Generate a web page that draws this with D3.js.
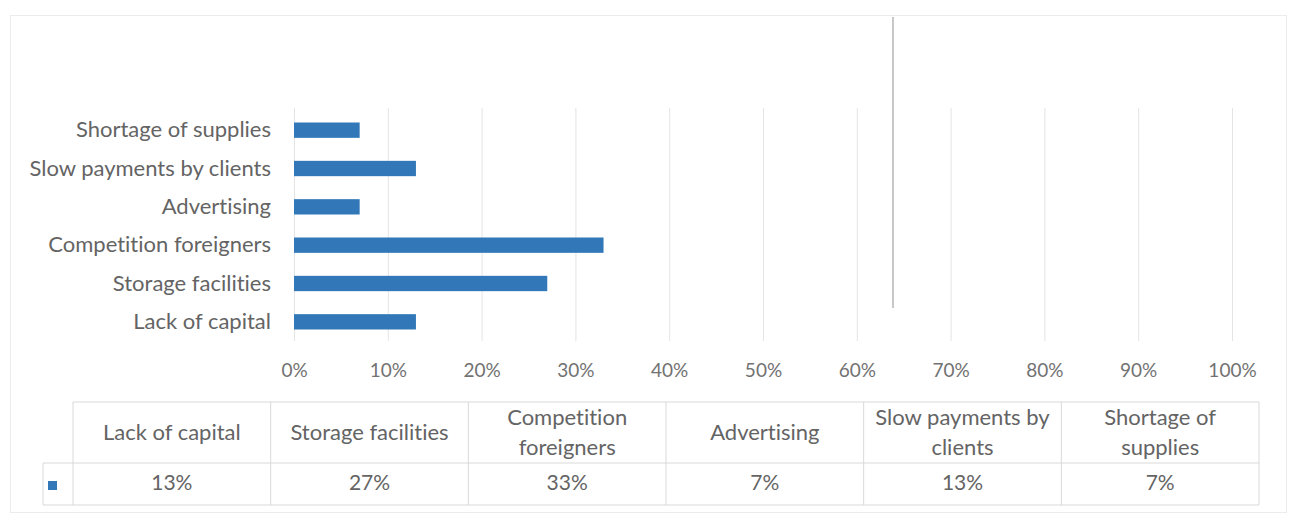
<!DOCTYPE html>
<html>
<head>
<meta charset="utf-8">
<script src="https://cdn.jsdelivr.net/npm/d3@7"></script>
<style>
  html, body { margin: 0; padding: 0; background: #fff; }
  svg { display: block; }
  text { font-family: Lato, "Open Sans", sans-serif; font-variant-ligatures: none; }
</style>
</head>
<body>
<svg id="chart" width="1290" height="525"></svg>
<script>
// Problems reported, share of respondents
const categories = ["Lack of capital", "Storage facilities", "Competition foreigners", "Advertising", "Slow payments by clients", "Shortage of supplies"];
const values = [0.13, 0.27, 0.33, 0.07, 0.13, 0.07];
const valueLabels = ["13%", "27%", "33%", "7%", "13%", "7%"];
// header cells of the data table, wrapped as in the table
const headerLines = [["Lack of capital"], ["Storage facilities"], ["Competition", "foreigners"], ["Advertising"], ["Slow payments by", "clients"], ["Shortage of", "supplies"]];
const tickValues = [0, 0.1, 0.2, 0.3, 0.4, 0.5, 0.6, 0.7, 0.8, 0.9, 1.0];

const svg = d3.select("#chart");
const barColor = "#3278b8";
const gridColor = "#e4e4e4";
const textColor = "#646464";
const labelSize = 22;

// outer chart frame
svg.append("rect")
  .attr("x", 10.5).attr("y", 15.5).attr("width", 1276).attr("height", 497)
  .attr("fill", "none").attr("stroke", "#ececec");

const x = d3.scaleLinear().domain([0, 1]).range([294, 1232]);
const y = d3.scaleBand()
  .domain(categories.slice().reverse())
  .range([111, 341])
  .paddingInner(0.6)
  .paddingOuter(0.3);

// vertical gridlines
svg.append("g")
  .attr("transform", "translate(0,341)")
  .call(d3.axisBottom(x).tickValues(tickValues).tickSize(-233).tickFormat(""))
  .call(g => g.select(".domain").remove())
  .call(g => g.selectAll(".tick line").attr("stroke", gridColor).attr("stroke-width", 1));

// bars
svg.append("g")
  .selectAll("rect")
  .data(categories)
  .join("rect")
  .attr("x", x(0))
  .attr("y", d => y(d))
  .attr("width", (d, i) => x(values[i]) - x(0))
  .attr("height", y.bandwidth())
  .attr("fill", barColor);

// percentage axis labels
svg.append("g")
  .attr("transform", "translate(0,363)")
  .call(d3.axisBottom(x).tickValues(tickValues).tickSize(0).tickPadding(0).tickFormat(d3.format(".0%")))
  .call(g => g.select(".domain").remove())
  .call(g => g.selectAll(".tick text")
    .attr("fill", "#727272")
    .attr("font-family", "Lato, sans-serif")
    .attr("font-size", 19)
    .attr("dy", "0.71em"));

// category axis labels
svg.append("g")
  .attr("transform", `translate(${x(0)},0)`)
  .call(d3.axisLeft(y).tickSize(0).tickPadding(23))
  .call(g => g.select(".domain").remove())
  .call(g => g.selectAll(".tick text")
    .attr("fill", textColor)
    .attr("font-family", "Lato, sans-serif")
    .attr("font-size", labelSize));

// data table under the axis
const col = d3.scaleBand().domain(categories).range([73, 1259]);
const tableTop = 402, rowSplit = 463, tableBottom = 505, legendLeft = 43;
const table = svg.append("g").attr("stroke", "#d9d9d9").attr("stroke-width", 1).attr("fill", "none");
table.append("path").attr("d", `M${col.range()[0]},${tableTop}H${col.range()[1]}`);
table.append("path").attr("d", `M${legendLeft},${rowSplit}H${col.range()[1]}`);
table.append("path").attr("d", `M${legendLeft},${tableBottom}H${col.range()[1]}`);
table.append("path").attr("d", `M${legendLeft},${rowSplit}V${tableBottom}`);
table.selectAll("line.col")
  .data(categories.concat(["end"]))
  .join("line")
  .attr("class", "col")
  .attr("x1", (d, i) => i < categories.length ? col(d) : col.range()[1])
  .attr("x2", (d, i) => i < categories.length ? col(d) : col.range()[1])
  .attr("y1", tableTop).attr("y2", tableBottom);

// header cells
const headers = svg.append("g").selectAll("text")
  .data(categories)
  .join("text")
  .attr("x", d => col(d) + col.bandwidth() / 2)
  .attr("text-anchor", "middle")
  .attr("fill", textColor)
  .attr("font-size", labelSize);
headers.each(function(d, i) {
  const lines = headerLines[i];
  const mid = (tableTop + rowSplit) / 2;
  const lh = 30;
  const t = d3.select(this);
  lines.forEach((ln, k) => {
    t.append("tspan")
      .attr("x", col(d) + col.bandwidth() / 2)
      .attr("y", mid + (k - (lines.length - 1) / 2) * lh)
      .attr("dy", "0.35em")
      .text(ln);
  });
});

// value cells
svg.append("g").selectAll("text")
  .data(categories)
  .join("text")
  .attr("x", d => col(d) + col.bandwidth() / 2)
  .attr("y", (rowSplit + tableBottom) / 2 - 1)
  .attr("dy", "0.35em")
  .attr("text-anchor", "middle")
  .attr("fill", textColor)
  .attr("font-size", labelSize - 1)
  .text((d, i) => valueLabels[i]);

// legend key
svg.append("rect")
  .attr("x", 48).attr("y", 481).attr("width", 9).attr("height", 9)
  .attr("fill", barColor);

// divider line in the upper plot area
svg.append("line")
  .attr("x1", 893).attr("x2", 893).attr("y1", 17).attr("y2", 308)
  .attr("stroke", "#c8c8c8").attr("stroke-width", 2);
</script>
</body>
</html>
